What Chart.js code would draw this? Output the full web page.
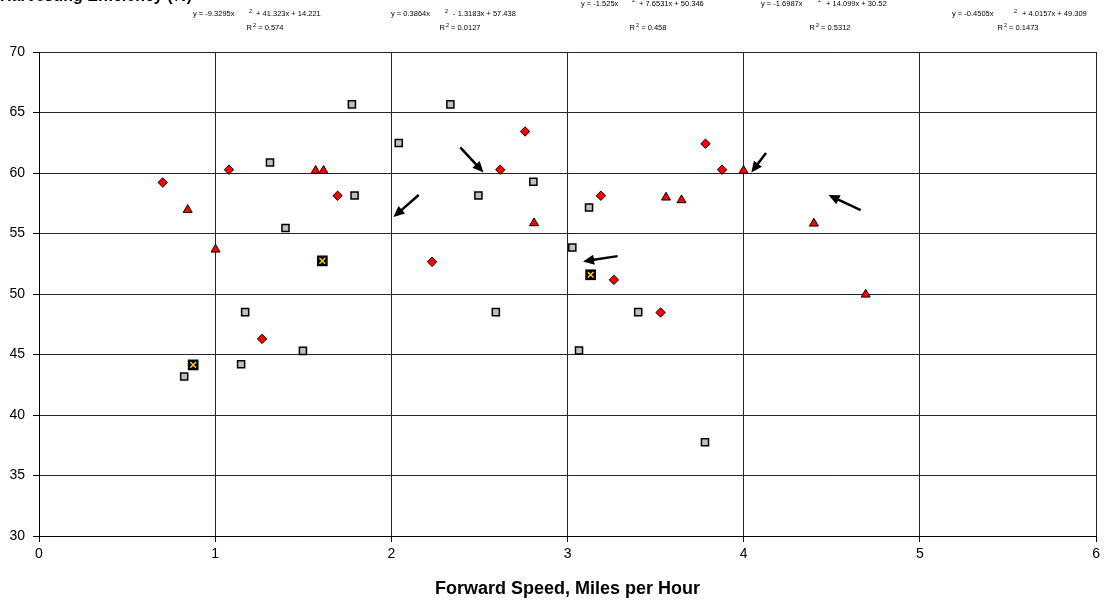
<!DOCTYPE html>
<html><head><meta charset="utf-8">
<script src="https://cdn.jsdelivr.net/npm/chart.js@4.4.0/dist/chart.umd.min.js"></script>
<style>html,body{margin:0;padding:0;background:#fff;}#wrap{width:1104px;height:605px;}</style>
</head><body><div id="wrap"><canvas id="c" width="1104" height="605"></canvas></div>
<script>
// ---- data ----
const xTicks = [0, 1, 2, 3, 4, 5, 6];
const yTicks = [30, 35, 40, 45, 50, 55, 60, 65, 70];

const diamondX = [0.702, 1.078, 1.266, 1.695, 2.231, 2.618, 2.759, 3.189, 3.263, 3.528, 3.783, 3.877];
const diamondY = [59.22, 60.27, 46.29, 58.12, 52.66, 60.27, 63.43, 58.12, 51.17, 48.47, 62.42, 60.27];

const triangleX = [0.844, 1.002, 1.570, 1.615, 2.810, 3.559, 3.647, 3.999, 4.398, 4.692];
const triangleY = [56.96, 53.68, 60.19, 60.19, 55.86, 57.98, 57.76, 60.19, 55.83, 49.96];

const squareX = [0.824, 1.147, 1.170, 1.311, 1.399, 1.498, 1.776, 1.791, 2.042, 2.335, 2.494, 2.593, 2.806, 3.027, 3.065, 3.122, 3.401, 3.780];
const squareY = [43.18, 44.20, 48.50, 60.87, 55.45, 45.30, 65.67, 58.14, 62.48, 65.67, 58.14, 48.50, 59.28, 53.84, 45.33, 57.15, 48.50, 37.75];

const crossX = [0.875, 1.608, 3.131];
const crossY = [44.14, 52.74, 51.59];

// arrows: [fromX, fromY, toX, toY] in data units
const arrows = [
  [2.155, 58.18, 2.012, 56.36],
  [2.391, 62.11, 2.523, 60.04],
  [3.284, 53.13, 3.088, 52.69],
  [4.126, 61.65, 4.043, 60.04],
  [4.664, 56.94, 4.481, 58.18]
];

const eqMain = ["y = -9.3295x", "y = 0.3864x", "y = -1.525x", "y = -1.6987x", "y = -0.4505x"];
const eqRest = [" + 41.323x + 14.221", " - 1.3183x + 57.438", " + 7.6531x + 50.346", " + 14.099x + 30.52", " + 4.0157x + 49.309"];
const eqR2 = ["0.574", "0.0127", "0.458", "0.5312", "0.1473"];

const xTitle = "Forward Speed, Miles per Hour";
const topTitle = "Harvesting Efficiency (%)";

// ---- layout of annotation text (pixels) ----
const eqPos = [
  {x0:193, xs:249, xr:254, base:16, rc:265},
  {x0:391, xs:445, xr:451, base:16, rc:460},
  {x0:581, xs:632, xr:637, base:5.5, rc:648},
  {x0:761, xs:818, xr:824, base:5.5, rc:830},
  {x0:952, xs:1014, xr:1020, base:16, rc:1018}
];

const FONT = "'Liberation Sans', Arial, sans-serif";

const pts = (xs, ys) => xs.map((v, i) => ({x: v, y: ys[i]}));

const annot = {
  id: 'annot',
  afterDatasetsDraw(chart) {
    const {ctx, scales: {x, y}} = chart;
    ctx.save();
    arrows.forEach(a => {
      const x1 = x.getPixelForValue(a[0]), y1 = y.getPixelForValue(a[1]);
      const x2 = x.getPixelForValue(a[2]), y2 = y.getPixelForValue(a[3]);
      const ang = Math.atan2(y2 - y1, x2 - x1);
      const hl = 11, hw = 5;
      const bx = x2 - hl * Math.cos(ang), by = y2 - hl * Math.sin(ang);
      ctx.strokeStyle = '#000'; ctx.lineWidth = 2.5; ctx.lineCap = 'butt';
      ctx.beginPath(); ctx.moveTo(x1, y1); ctx.lineTo(bx + 2 * Math.cos(ang), by + 2 * Math.sin(ang)); ctx.stroke();
      ctx.fillStyle = '#000';
      ctx.beginPath(); ctx.moveTo(x2, y2);
      ctx.lineTo(bx + hw * Math.sin(ang), by - hw * Math.cos(ang));
      ctx.lineTo(bx - hw * Math.sin(ang), by + hw * Math.cos(ang));
      ctx.closePath(); ctx.fill();
    });
    ctx.restore();
  },
  afterDraw(chart) {
    const {ctx} = chart;
    ctx.save();
    ctx.fillStyle = '#000';
    ctx.textBaseline = 'alphabetic';
    // clipped bold title at top-left (cut off by the image edge in the reference)
    ctx.textAlign = 'left';
    ctx.font = "bold 16px " + FONT;
    ctx.fillText(topTitle, 0, 0.5);
    // equations
    eqPos.forEach((p, i) => {
      ctx.textAlign = 'left';
      ctx.font = "7.5px " + FONT;
      ctx.fillText(eqMain[i], p.x0, p.base);
      ctx.fillText(eqRest[i], p.xr, p.base);
      ctx.font = "5.5px " + FONT;
      ctx.fillText("2", p.xs, p.base - 3.5);
      // R^2 line
      ctx.font = "7.5px " + FONT;
      const s1 = "R", s3 = " = " + eqR2[i];
      const w1 = ctx.measureText(s1).width, w3 = ctx.measureText(s3).width;
      ctx.font = "5.5px " + FONT;
      const w2 = ctx.measureText("2").width + 1;
      const total = w1 + w2 + w3;
      const sx = p.rc - total / 2;
      const rb = 30;
      ctx.font = "7.5px " + FONT;
      ctx.fillText(s1, sx, rb);
      ctx.font = "5.5px " + FONT;
      ctx.fillText("2", sx + w1 + 1, rb - 3.5);
      ctx.font = "7.5px " + FONT;
      ctx.fillText(s3, sx + w1 + w2, rb);
    });
    ctx.restore();
  }
};

const gridColor = '#262626';

new Chart(document.getElementById('c'), {
  type: 'scatter',
  data: {
    datasets: [
      {label: 'cross', data: pts(crossX, crossY), pointStyle: 'crossRot', radius: 4, borderColor: '#FFD000', borderWidth: 1.5, backgroundColor: '#FFD000', order: 0},
      {label: 'crossbg', data: pts(crossX, crossY), pointStyle: 'rect', radius: 7.6, borderColor: '#000', borderWidth: 0, backgroundColor: '#000', order: 1},
      {label: 'diamond', data: pts(diamondX, diamondY), pointStyle: 'rectRot', radius: 4.7, borderColor: '#000', borderWidth: 1, backgroundColor: '#FF0000', order: 2},
      {label: 'triangle', data: pts(triangleX, triangleY), pointStyle: 'triangle', radius: 5.2, borderColor: '#000', borderWidth: 1, backgroundColor: '#FF0000', order: 3},
      {label: 'square', data: pts(squareX, squareY), pointStyle: 'rect', radius: 5, borderColor: '#000', borderWidth: 1.5, backgroundColor: '#C0C0C0', order: 4}
    ]
  },
  options: {
    responsive: false,
    animation: false,
    devicePixelRatio: 1,
    layout: {padding: {top: 52, right: 6, left: 0, bottom: 0}},
    plugins: {legend: {display: false}, tooltip: {enabled: false}},
    elements: {point: {hoverRadius: 5}},
    scales: {
      x: {
        type: 'linear', min: 0, max: 6,
        afterBuildTicks: ax => { ax.ticks = xTicks.map(v => ({value: v})); },
        afterFit: ax => { ax.height = 69; },
        ticks: {color: '#000', font: {family: FONT, size: 14}, padding: 4, maxRotation: 0},
        grid: {color: gridColor, lineWidth: 1, tickLength: 6, tickColor: '#000'},
        border: {color: '#000', width: 1},
        title: {display: true, text: xTitle, color: '#000', font: {family: FONT, size: 18, weight: 'bold'}, padding: {top: 0, bottom: 5}}
      },
      y: {
        type: 'linear', min: 30, max: 70,
        afterBuildTicks: ax => { ax.ticks = yTicks.map(v => ({value: v})); },
        afterFit: ax => { ax.width = 39; },
        ticks: {color: '#000', font: {family: FONT, size: 14}, padding: 8},
        grid: {color: gridColor, lineWidth: 1, tickLength: 6, tickColor: '#000'},
        border: {color: '#000', width: 1}
      }
    }
  },
  plugins: [annot]
});
</script>
</body></html>
